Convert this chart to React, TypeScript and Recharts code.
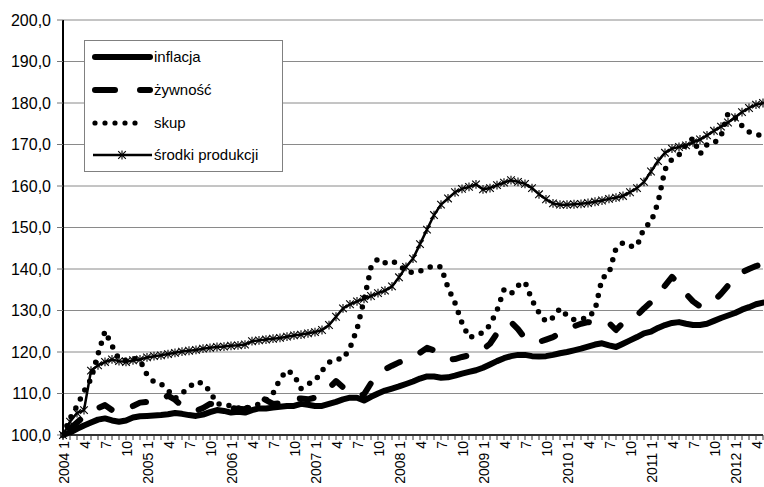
import { LineChart, Line, XAxis, YAxis, CartesianGrid } from "recharts";

// miesiące od 2004-01 do 2012-05
const START_YEAR = 2004;
const LABELED_MONTHS = [1, 4, 7, 10];
const Y_TICKS = [100, 110, 120, 130, 140, 150, 160, 170, 180, 190, 200];

const INFLACJA = [
  100.0, 100.6, 101.5, 102.3, 103.0, 103.7, 104.0, 103.5, 103.2, 103.5,
  104.2, 104.5, 104.6, 104.7, 104.8, 105.0, 105.3, 105.1, 104.8, 104.6,
  104.9, 105.5, 106.0, 105.8, 105.4, 105.6, 105.4, 106.0, 106.4, 106.4,
  106.6, 106.8, 107.0, 107.0, 107.5, 107.3, 107.0, 107.0, 107.5, 108.0,
  108.6, 109.0, 109.0, 108.3, 109.2, 110.0, 110.7, 111.2, 111.7, 112.3,
  112.9, 113.6, 114.1, 114.1, 113.8, 113.9, 114.3, 114.8, 115.2, 115.6,
  116.2, 117.0, 117.8, 118.5, 119.0, 119.3, 119.3, 119.0, 118.9, 119.0,
  119.3, 119.7, 120.0, 120.4, 120.8, 121.3, 121.8, 122.1, 121.6, 121.2,
  122.0, 122.8, 123.6, 124.5, 124.9, 125.8, 126.5, 127.0, 127.2, 126.8,
  126.5, 126.5, 126.8, 127.5, 128.2, 128.8, 129.4, 130.2, 130.8, 131.5,
  131.9,
];

const ZYWNOSC = [
  100.0, 101.5, 103.0, 104.5, 105.5, 106.5, 107.2, 106.0, 105.5, 106.3,
  107.0, 107.8, 108.0, 107.6, 108.2, 109.5, 108.5, 107.0, 106.0, 105.8,
  106.5, 107.5, 107.3, 106.8, 106.5, 106.3, 106.2, 107.3, 109.3, 108.4,
  107.5, 107.6, 108.2, 108.7, 108.8, 108.6, 109.0, 110.0, 111.3, 113.0,
  111.5, 110.0, 109.5, 109.8, 112.5, 114.5, 115.8, 116.7, 117.5, 118.0,
  118.5, 119.8, 121.0, 120.4, 119.3, 118.2, 118.3, 118.8, 119.2, 119.8,
  120.6, 122.0, 124.5, 126.0, 127.2, 125.5, 123.3, 122.4, 122.4, 123.0,
  123.6, 124.5, 125.5, 126.2, 126.8, 127.2, 127.0, 126.5, 127.0, 125.3,
  127.0, 127.8, 128.8, 130.5, 132.0, 133.8, 136.0, 138.1, 136.3, 134.0,
  132.2, 131.0, 131.2, 132.3, 134.0, 136.0, 137.8, 139.2, 140.0, 140.7,
  141.2,
];

const SKUP = [
  100.0, 104.0, 107.0, 110.5, 113.5, 119.5, 125.0, 121.5, 118.3, 118.0,
  118.5, 118.0, 114.5, 112.8, 112.3, 110.8, 108.8, 110.0, 111.5, 112.8,
  112.5, 110.5, 107.5, 107.4, 107.0, 106.5, 106.3, 106.8, 107.5, 108.5,
  110.0, 113.5, 115.6, 114.5, 111.2, 112.3, 113.0, 115.5, 117.5, 118.3,
  118.3, 121.0, 125.5, 132.5, 140.4, 142.5, 141.5, 142.0, 141.0, 139.5,
  139.1, 139.5, 140.2, 140.8, 140.5, 135.5, 131.8, 127.0, 123.5, 124.0,
  124.7, 126.5, 130.0, 135.0, 134.0, 136.0, 136.9, 132.5, 129.5, 127.3,
  128.3, 130.5, 128.8, 127.8, 128.0, 128.2, 130.1, 137.7, 139.0, 145.0,
  146.3, 145.5, 145.5, 149.9, 151.3, 156.0, 164.0, 166.5, 167.5, 170.0,
  171.5, 167.7, 170.0, 170.3, 172.0, 177.5, 176.5, 174.5, 173.0, 172.5,
  172.0,
];

const SRODKI = [
  100.0, 103.2, 105.3, 106.0, 115.5, 116.8, 117.6, 118.2, 117.8, 117.6,
  118.0, 118.2, 118.7, 119.0, 119.2, 119.5, 119.8, 120.1, 120.3, 120.5,
  120.8, 121.0, 121.2, 121.3, 121.5, 121.6, 121.8, 122.6, 122.8, 123.0,
  123.2, 123.4, 123.7, 124.0, 124.2, 124.5, 124.8, 125.3, 126.5, 128.5,
  130.5, 131.5, 132.2, 132.8, 133.5, 134.2, 134.8, 135.8, 138.0, 140.5,
  142.5, 146.0, 149.5, 153.0, 155.5, 157.0, 158.5, 159.3, 159.8, 160.4,
  159.2, 159.5, 160.2, 160.8, 161.4, 161.0, 160.5, 159.5, 158.0, 156.8,
  155.8, 155.5, 155.5, 155.6, 155.7, 155.9, 156.2, 156.5, 156.9, 157.2,
  157.6, 158.5, 159.5, 161.0, 163.5, 166.0, 168.0, 169.0, 169.4, 169.8,
  170.5, 171.2, 172.2, 173.3, 174.3, 175.3, 176.5, 177.8, 178.8, 179.6,
  180.0,
];

const SERIES_NAMES = ["inflacja", "żywność", "skup", "środki produkcji"];

const FONT = "'Liberation Sans', Arial, sans-serif";

const monthLabel = (i: number) => {
  const month = (i % 12) + 1;
  if (!LABELED_MONTHS.includes(month)) return "";
  return month === 1 ? `${START_YEAR + Math.floor(i / 12)} ${month}` : `${month}`;
};

const data = INFLACJA.map((v, i) => ({
  i,
  inflacja: v,
  zywnosc: ZYWNOSC[i],
  skup: SKUP[i],
  srodki: SRODKI[i],
}));
const xTicks = data.map((d) => d.i);

const MonthTick = ({ x, y, payload }: any) => {
  const label = monthLabel(payload.value);
  if (!label) return null;
  const tx = x + 1;
  return (
    <text
      x={tx}
      y={y}
      transform={`rotate(-90 ${tx} ${y})`}
      textAnchor="end"
      dominantBaseline="central"
      fontSize={14}
      fontFamily={FONT}
      fill="#000"
    >
      {label}
    </text>
  );
};

const StarDot = ({ cx, cy }: any) => {
  if (cx == null || cy == null) return <g />;
  const r = 3.8;
  return (
    <g stroke="#000" strokeWidth={1.1}>
      <line x1={cx - r} y1={cy - r} x2={cx + r} y2={cy + r} />
      <line x1={cx - r} y1={cy + r} x2={cx + r} y2={cy - r} />
      <line x1={cx} y1={cy - r - 0.6} x2={cx} y2={cy + r + 0.6} />
    </g>
  );
};

// legenda rysowana ręcznie (ramka w lewym górnym rogu wykresu)
const LegendBox = () => {
  const rows = [17, 50, 83, 115];
  return (
    <div
      style={{
        position: "absolute",
        left: 84,
        top: 40,
        width: 199,
        height: 132,
        boxSizing: "border-box",
        border: "1px solid #808080",
        background: "#fff",
        fontFamily: FONT,
        fontSize: 15,
      }}
    >
      <svg width={199} height={132} style={{ position: "absolute", left: -1, top: -1 }}>
        <line x1={11} y1={rows[0]} x2={66} y2={rows[0]} stroke="#000" strokeWidth={6} strokeLinecap="round" />
        <line x1={11} y1={rows[1]} x2={31} y2={rows[1]} stroke="#000" strokeWidth={6} strokeLinecap="round" />
        <line x1={56} y1={rows[1]} x2={66} y2={rows[1]} stroke="#000" strokeWidth={6} strokeLinecap="round" />
        {[11, 21, 31, 41, 51].map((cx) => (
          <circle key={cx} cx={cx} cy={rows[2]} r={2.6} fill="#000" />
        ))}
        <line x1={9} y1={rows[3]} x2={68} y2={rows[3]} stroke="#000" strokeWidth={2.5} />
        <StarDot cx={38} cy={rows[3]} />
        {SERIES_NAMES.map((name, k) => (
          <text key={name} x={70} y={rows[k]} dy="0.35em" fontSize={15} fontFamily={FONT} fill="#000">
            {name}
          </text>
        ))}
      </svg>
    </div>
  );
};

export default function App() {
  return (
    <div style={{ position: "relative", width: 764, height: 487, background: "#fff" }}>
      <style>{"body{margin:0}"}</style>
      <LineChart width={764} height={487} data={data} margin={{ top: 20, right: 1, bottom: 0, left: 0 }}>
        <CartesianGrid vertical={false} stroke="#8a8a8a" strokeWidth={1} />
        <XAxis
          dataKey="i"
          type="number"
          domain={[0, 100]}
          ticks={xTicks}
          interval={0}
          height={52}
          tick={<MonthTick />}
          tickSize={5}
          tickMargin={1}
          axisLine={{ stroke: "#000", strokeWidth: 1.5 }}
          tickLine={{ stroke: "#333" }}
        />
        <YAxis
          domain={[100, 200]}
          ticks={Y_TICKS}
          width={63}
          interval={0}
          tickSize={6}
          tickMargin={6}
          tickFormatter={(v: number) => v.toFixed(1).replace(".", ",")}
          tick={{ fontSize: 16, fontFamily: FONT, fill: "#000" }}
          axisLine={{ stroke: "#000", strokeWidth: 2 }}
          tickLine={{ stroke: "#777" }}
        />
        <Line
          dataKey="inflacja"
          name={SERIES_NAMES[0]}
          type="linear"
          stroke="#000"
          strokeWidth={6}
          strokeLinejoin="round"
          strokeLinecap="round"
          dot={false}
          isAnimationActive={false}
        />
        <Line
          dataKey="zywnosc"
          name={SERIES_NAMES[1]}
          type="linear"
          stroke="#000"
          strokeWidth={6}
          strokeDasharray="14 23"
          strokeDashoffset={28}
          strokeLinecap="round"
          strokeLinejoin="round"
          dot={false}
          isAnimationActive={false}
        />
        <Line
          dataKey="skup"
          name={SERIES_NAMES[2]}
          type="linear"
          stroke="#000"
          strokeWidth={5.5}
          strokeDasharray="0 10"
          strokeLinecap="round"
          dot={false}
          isAnimationActive={false}
        />
        <Line
          dataKey="srodki"
          name={SERIES_NAMES[3]}
          type="linear"
          stroke="#000"
          strokeWidth={2.5}
          dot={<StarDot />}
          isAnimationActive={false}
        />
      </LineChart>
      <LegendBox />
    </div>
  );
}
